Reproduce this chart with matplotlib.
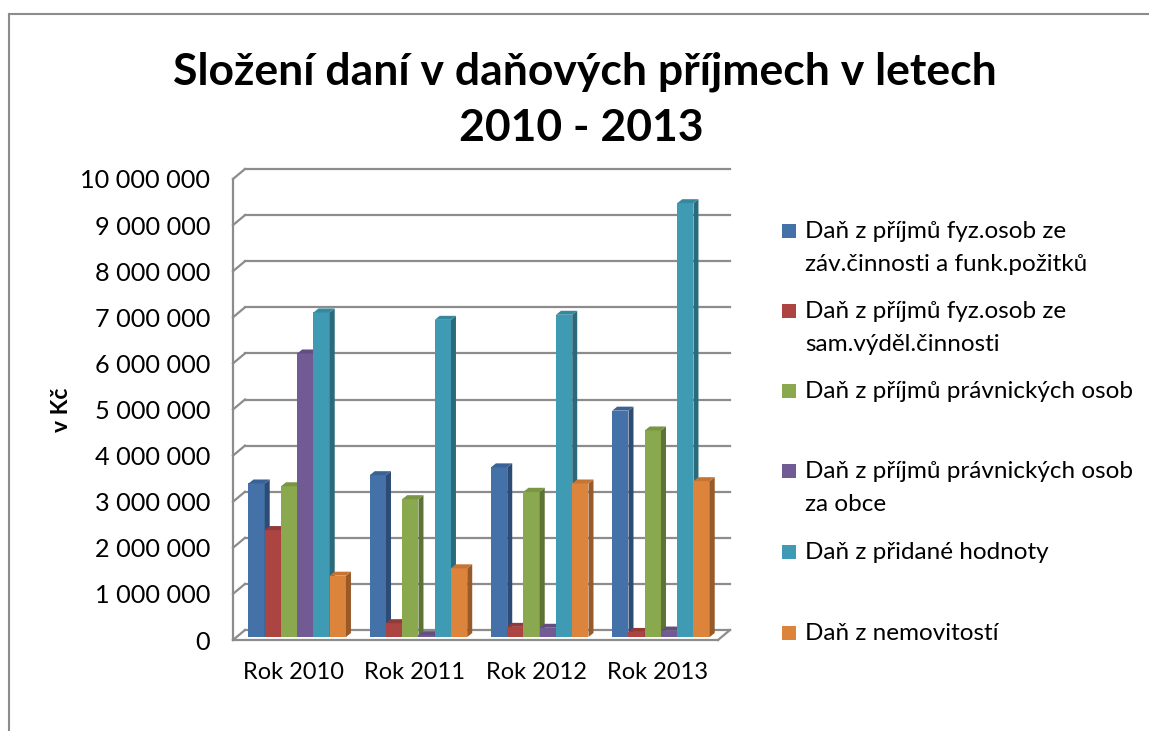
import numpy as np
import matplotlib
matplotlib.use("Agg")
import matplotlib.pyplot as plt
from matplotlib.patches import Polygon, Rectangle
from matplotlib.lines import Line2D

plt.rcParams['font.family'] = ['Lato', 'DejaVu Sans']

# data
years = ["Rok 2010", "Rok 2011", "Rok 2012", "Rok 2013"]
series_names = [
    "Daň z příjmů fyz.osob ze\nzáv.činnosti a funk.požitků",
    "Daň z příjmů fyz.osob ze\nsam.výděl.činnosti",
    "Daň z příjmů právnických osob",
    "Daň z příjmů právnických osob\nza obce",
    "Daň z přidané hodnoty",
    "Daň z nemovitostí",
]
dan_fo_zav = [3330000, 3510000, 3680000, 4910000]
dan_fo_sam = [2320000, 300000, 220000, 110000]
dan_po = [3270000, 2990000, 3150000, 4480000]
dan_po_obce = [6150000, 40000, 200000, 140000]
dph = [7040000, 6880000, 6990000, 9410000]
dan_nemovitosti = [1330000, 1490000, 3330000, 3380000]
values = [dan_fo_zav, dan_fo_sam, dan_po, dan_po_obce, dph, dan_nemovitosti]

y_ticks = list(range(0, 10000001, 1000000))

# colours: front, side, top
front = ["#4471A8", "#AC4441", "#8AA84D", "#725A94", "#3F9BB3", "#DC843C"]
side = ["#2D4C75", "#772E2C", "#5D7334", "#4D3D66", "#2A6A7B", "#985A28"]
top = ["#3B6296", "#94393A", "#7A9543", "#634E82", "#35889E", "#C67434"]
grid_col = "#8C8C8C"

W, H = 1149, 731
fig = plt.figure(figsize=(W / 100, H / 100), dpi=100)

# front plane of the 3d box, in pixels
x0, x1, y0, y1 = 233, 718, 640, 179
ax = fig.add_axes([x0 / W, 1 - y0 / H, (x1 - x0) / W, (y0 - y1) / H])
ax.set_xlim(-0.5, 3.5)
ax.set_ylim(0, 10000000)
for s in ax.spines.values():
    s.set_visible(False)

# pixel -> data units
ux = 4.0 / (x1 - x0)
uy = 10000000.0 / (y0 - y1)
back_dx, back_dy = 12 * ux, 10 * uy
bar_dx, bar_dy = 3.6 * ux, 3 * uy
dep_dx, dep_dy = 5 * ux, 4 * uy

lw = 1.6
# back wall grid + left wall diagonals
for v in y_ticks:
    ax.add_line(Line2D([-0.5 + back_dx, 3.5 + back_dx], [v + back_dy, v + back_dy],
                       color=grid_col, lw=lw, clip_on=False, zorder=1))
    ax.add_line(Line2D([-0.5, -0.5 + back_dx], [v, v + back_dy],
                       color=grid_col, lw=lw, clip_on=False, zorder=1))
ax.add_line(Line2D([-0.5, -0.5], [0, 10000000], color=grid_col, lw=lw, clip_on=False, zorder=1))
# floor
ax.add_line(Line2D([-0.5, 3.5], [0, 0], color=grid_col, lw=lw, clip_on=False, zorder=50))
ax.add_line(Line2D([3.5, 3.5 + back_dx], [0, back_dy], color=grid_col, lw=lw, clip_on=False, zorder=50))

# bars
n = len(values)
bw = 0.134
z = 2
for i in range(len(years)):
    for k in range(n):
        h = values[k][i]
        left = i - n * bw / 2 + k * bw + bar_dx
        right = left + bw
        b = bar_dy
        ax.bar(left, h, width=bw, bottom=b, align='edge', color=front[k],
               lw=0, zorder=z, clip_on=False)
        ax.add_patch(Polygon([(right, b), (right + dep_dx, b + dep_dy),
                              (right + dep_dx, b + h + dep_dy), (right, b + h)],
                             closed=True, fc=side[k], lw=0, zorder=z, clip_on=False))
        ax.add_patch(Polygon([(left, b + h), (left + dep_dx, b + h + dep_dy),
                              (right + dep_dx, b + h + dep_dy), (right, b + h)],
                             closed=True, fc=top[k], lw=0, zorder=z, clip_on=False))
        z += 1

ax.set_xticks(range(len(years)))
ax.set_xticklabels(years, fontsize=17)
ax.set_yticks(y_ticks)
ax.set_yticklabels([f"{v:,}".replace(",", " ") for v in y_ticks], fontsize=18.2)
ax.tick_params(axis='both', length=0)
ax.tick_params(axis='y', pad=16.5)
ax.tick_params(axis='x', pad=16)

fig.text(62 / W, 1 - 410 / H, "v Kč", rotation=90, ha='center', va='center',
         fontsize=16.5, fontweight='bold')

# title, two lines
fig.text(585 / W, 1 - 85 / H, "Složení daní v daňových příjmech v letech",
         ha='center', va='baseline', fontsize=32, fontweight='bold')
fig.text(581 / W, 1 - 141 / H, "2010 - 2013",
         ha='center', va='baseline', fontsize=32, fontweight='bold')

# legend
baselines = [238, 318, 398, 478, 559, 640]
for k, name in enumerate(series_names):
    bl = baselines[k]
    fig.patches.append(Rectangle((782 / W, 1 - bl / H), 14 / W, 14 / H,
                                 transform=fig.transFigure, fc=front[k], lw=0))
    for j, line in enumerate(name.split("\n")):
        fig.text(805 / W, 1 - (bl + 33 * j) / H, line, ha='left', va='baseline', fontsize=17.5)

# outer frame (cut off at right and bottom)
fig.add_artist(Line2D([9 / W, 1], [1 - 14 / H, 1 - 14 / H], color=grid_col, lw=1.5,
                      transform=fig.transFigure))
fig.add_artist(Line2D([9 / W, 9 / W], [0, 1 - 14 / H], color=grid_col, lw=1.5,
                      transform=fig.transFigure))

fig.savefig("out.png", dpi=100)
